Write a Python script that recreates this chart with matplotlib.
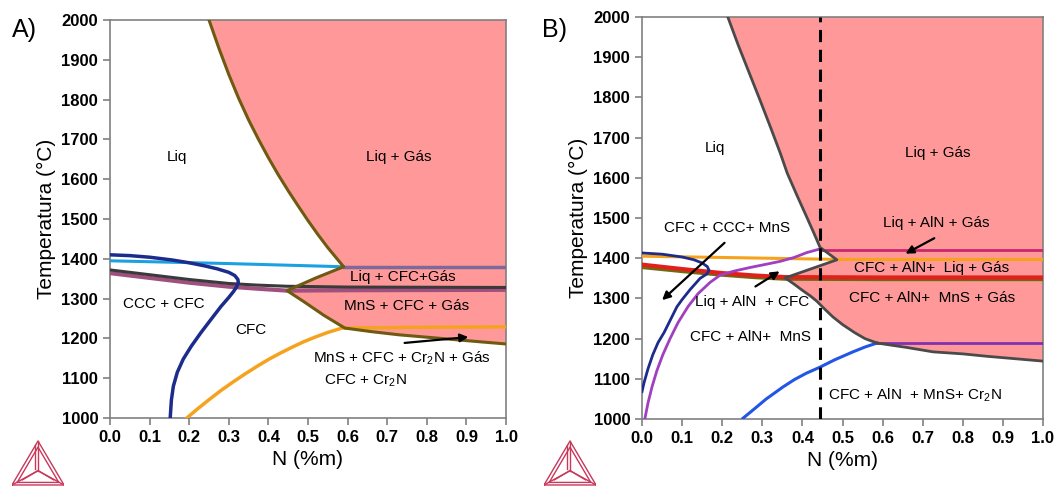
import numpy as np
import matplotlib
matplotlib.use("Agg")
import matplotlib.pyplot as plt

plt.rcParams['font.family'] = ['Liberation Sans', 'DejaVu Sans']
plt.rcParams['mathtext.fontset'] = 'custom'
plt.rcParams['mathtext.rm'] = 'Liberation Sans'

# ---------------- painel A ----------------
# fronteira Liq / Liq + Gás
a_liq_x = [0.25, 0.275, 0.30, 0.325, 0.35, 0.375, 0.40, 0.425, 0.45, 0.475, 0.50, 0.525, 0.55, 0.59]
a_liq_t = [2000, 1929, 1863, 1803, 1749, 1700, 1654, 1611, 1571, 1533, 1496, 1461, 1428, 1380]
# contorno inferior da região gasosa
a_gas_x = [0.59, 0.52, 0.447, 0.49, 0.54, 0.593, 0.66, 0.73, 0.80, 0.87, 0.94, 1.0]
a_gas_t = [1380, 1352, 1320, 1292, 1258, 1226, 1217, 1209, 1203, 1197, 1191, 1186]

a_navy_x = [0.0, 0.05, 0.10, 0.157, 0.20, 0.24, 0.27, 0.30, 0.315, 0.323, 0.324, 0.32, 0.312,
            0.30, 0.28, 0.253, 0.23, 0.205, 0.185, 0.17, 0.16, 0.155, 0.152]
a_navy_t = [1410, 1408, 1404, 1397, 1390, 1382, 1375, 1366, 1358, 1348, 1340, 1330, 1318,
            1303, 1280, 1245, 1215, 1180, 1148, 1115, 1080, 1045, 1000]
a_cyan_x = [0.0, 0.3, 0.59]
a_cyan_t = [1395, 1388, 1380]
a_top_x = [0.59, 1.0]
a_top_t = [1380, 1380]
a_mauve_x = [0.0, 0.05, 0.1, 0.15, 0.2, 0.25, 0.3, 0.37, 0.447, 0.6, 1.0]
a_mauve_t = [1364, 1358, 1352, 1346, 1340, 1335, 1330, 1325, 1320, 1321, 1322]
a_black_x = [0.0, 0.05, 0.1, 0.15, 0.2, 0.25, 0.3, 0.37, 0.447, 0.6, 1.0]
a_black_t = [1372, 1366, 1360, 1354, 1348, 1343, 1338, 1334, 1331, 1329, 1328]
a_orange_x = [0.194, 0.22, 0.25, 0.28, 0.31, 0.34, 0.37, 0.40, 0.43, 0.46, 0.49, 0.52, 0.55,
              0.586, 0.8, 1.0]
a_orange_t = [1000, 1022, 1046, 1069, 1090, 1110, 1129, 1147, 1163, 1178, 1192, 1204, 1215,
              1226, 1228, 1229]

a_labels = ["Liq", "Liq + Gás", "Liq + CFC+Gás", "MnS + CFC + Gás", "CCC + CFC", "CFC",
            r"MnS + CFC + Cr$_2$N + Gás", r"CFC + Cr$_2$N"]
a_label_x = [0.17, 0.73, 0.74, 0.75, 0.135, 0.355, 0.737, 0.645]
a_label_t = [1656, 1656, 1355, 1281, 1286, 1221, 1150, 1093]
a_arrows = [((0.737, 1188), (0.912, 1204))]

# ---------------- painel B ----------------
b_liq_x = [0.214, 0.24, 0.267, 0.294, 0.32, 0.345, 0.362, 0.387, 0.411, 0.428, 0.444]
b_liq_t = [2000, 1930, 1862, 1794, 1727, 1661, 1612, 1555, 1502, 1464, 1427]
b_gas_x = [0.444, 0.486, 0.357, 0.38, 0.40, 0.42, 0.436, 0.456, 0.476, 0.50, 0.53, 0.556,
           0.586, 0.66, 0.726, 0.80, 0.86, 0.93, 1.0]
b_gas_t = [1427, 1396, 1351, 1335, 1320, 1306, 1293, 1273, 1254, 1235, 1215, 1200,
           1189, 1178, 1167, 1162, 1156, 1150, 1144]

b_magenta_x = [0.444, 1.0]
b_magenta_t = [1421, 1421]
b_orange_x = [0.0, 0.25, 0.486, 0.75, 1.0]
b_orange_t = [1405, 1401, 1397, 1397, 1397]
b_purple_x = [0.007, 0.015, 0.025, 0.037, 0.052, 0.07, 0.09, 0.115, 0.14, 0.17, 0.195, 0.23,
              0.27, 0.31, 0.344, 0.38, 0.411, 0.444]
b_purple_t = [1000, 1040, 1080, 1120, 1160, 1200, 1240, 1280, 1312, 1340, 1358, 1368,
              1377, 1385, 1392, 1402, 1414, 1423]
b_navy_x = [0.0, 0.05, 0.10, 0.13, 0.15, 0.163, 0.167, 0.162, 0.145, 0.12, 0.10, 0.087, 0.07,
            0.055, 0.04, 0.027, 0.015, 0.005, 0.0]
b_navy_t = [1413, 1410, 1403, 1396, 1388, 1379, 1370, 1361, 1350, 1322, 1297, 1279, 1245,
            1215, 1190, 1160, 1125, 1090, 1068]
b_olive_x = [0.0, 0.1, 0.2, 0.28, 0.357, 0.6, 1.0]
b_olive_t = [1378, 1368, 1359, 1353, 1349, 1348, 1348]
b_red_x = [0.0, 0.1, 0.2, 0.28, 0.357, 0.6, 1.0]
b_red_t = [1384, 1373, 1363, 1357, 1353, 1352, 1352]
b_blue_x = [0.252, 0.28, 0.31, 0.352, 0.38, 0.41, 0.444, 0.48, 0.526, 0.556, 0.586]
b_blue_t = [1002, 1025, 1050, 1080, 1098, 1114, 1129, 1147, 1167, 1179, 1189]
b_violet_x = [0.586, 1.0]
b_violet_t = [1189, 1189]
b_cut = 0.445

b_labels = ["Liq", "Liq + Gás", "CFC + CCC+ MnS", "Liq + AlN + Gás", "CFC + AlN+  Liq + Gás",
            "CFC + AlN+  MnS + Gás", "Liq + AlN  + CFC", "CFC + AlN+  MnS",
            r"CFC + AlN  + MnS+ Cr$_2$N"]
b_label_x = [0.182, 0.738, 0.211, 0.735, 0.723, 0.723, 0.274, 0.27, 0.68]
b_label_t = [1674, 1662, 1475, 1488, 1376, 1301, 1291, 1204, 1060]
b_arrows = [((0.211, 1443), (0.045, 1291)), ((0.277, 1326), (0.349, 1371)),
            ((0.735, 1453), (0.651, 1408))]

FILL = '#FF9999'


def style_axes(ax):
    ax.set_xlim(0, 1)
    ax.set_ylim(1000, 2000)
    ax.set_xticks(np.arange(0, 1.01, 0.1))
    ax.set_xticklabels([f"{v:.1f}" for v in np.arange(0, 1.01, 0.1)])
    ax.set_yticks(np.arange(1000, 2001, 100))
    for s in ax.spines.values():
        s.set_color('#808080')
        s.set_linewidth(1.2)
    ax.tick_params(direction='out', length=5, color='#808080', width=1.2,
                   labelsize=12)
    for lab in ax.get_xticklabels() + ax.get_yticklabels():
        lab.set_fontweight('bold')
    ax.set_xlabel("N (%m)", fontsize=15)
    ax.set_ylabel("Temperatura (°C)", fontsize=15)


def draw_logo(fig, rect):
    # logotipo triangular no canto
    lax = fig.add_axes(rect)
    lax.set_xlim(0, 1)
    lax.set_ylim(0, 0.9)
    lax.axis('off')
    kw = dict(color='#C8385A', lw=1.0)
    lax.plot([0, 1, 0.5, 0], [0.02, 0.02, 0.88, 0.02], **kw)
    lax.plot([0.1, 0.9, 0.5, 0.1], [0.07, 0.07, 0.76, 0.07], **kw)
    for vx, vy in [(0, 0.02), (1, 0.02), (0.5, 0.88)]:
        lax.plot([vx, 0.5], [vy, 0.3], **kw)
    lax.plot([0.45, 0.45], [0.33, 0.8], **kw)
    lax.plot([0.2, 0.5, 0.8], [0.12, 0.3, 0.12], **kw)


fig = plt.figure(figsize=(10.58, 4.86), dpi=100)

# ---- A ----
axA = fig.add_axes([110 / 1058, 1 - 418 / 486, 396 / 1058, 398 / 486])
polyA_x = a_liq_x + a_gas_x[1:] + [1.0]
polyA_t = a_liq_t + a_gas_t[1:] + [2000]
axA.fill(polyA_x, polyA_t, color=FILL, zorder=1, lw=0)
axA.plot(a_liq_x + a_gas_x[1:], a_liq_t + a_gas_t[1:], color='#6E5A10', lw=2.2, zorder=4,
         solid_joinstyle='round')
axA.plot(a_cyan_x, a_cyan_t, color='#1BA1E2', lw=2.2, zorder=3)
axA.plot(a_top_x, a_top_t, color='#7E6A9A', lw=2.5, zorder=3)
axA.plot(a_mauve_x, a_mauve_t, color='#A0507F', lw=3.0, zorder=3)
axA.plot(a_black_x, a_black_t, color='#3A3A3A', lw=2.2, zorder=3)
axA.plot(a_orange_x, a_orange_t, color='#F5A31E', lw=2.5, zorder=3)
axA.plot(a_navy_x, a_navy_t, color='#1C2B8C', lw=2.5, zorder=5, solid_joinstyle='round')
for txt, x, t in zip(a_labels, a_label_x, a_label_t):
    axA.text(x, t, txt, ha='center', va='center', fontsize=11, zorder=6)
for tail, head in a_arrows:
    axA.annotate('', xy=head, xytext=tail, zorder=6,
                 arrowprops=dict(arrowstyle='-|>', color='black', lw=1.6, mutation_scale=12))
style_axes(axA)
fig.text(12 / 1058, 1 - 30 / 486, "A)", fontsize=18, va='center', ha='left')

# ---- B ----
axB = fig.add_axes([642 / 1058, 1 - 419 / 486, 401 / 1058, 402 / 486])
polyB_x = b_liq_x + b_gas_x[1:] + [1.0]
polyB_t = b_liq_t + b_gas_t[1:] + [2000]
axB.fill(polyB_x, polyB_t, color=FILL, zorder=1, lw=0)
axB.plot(b_liq_x + b_gas_x[1:], b_liq_t + b_gas_t[1:], color='#4A4A4A', lw=2.0, zorder=4,
         solid_joinstyle='round')
axB.plot(b_magenta_x, b_magenta_t, color='#C8286E', lw=2.0, zorder=3)
axB.plot(b_orange_x, b_orange_t, color='#F7A21B', lw=2.2, zorder=3)
axB.plot(b_olive_x, b_olive_t, color='#6F6A10', lw=3.0, zorder=3)
axB.plot(b_red_x, b_red_t, color='#E0201B', lw=3.0, zorder=3)
axB.plot(b_purple_x, b_purple_t, color='#A040C0', lw=2.0, zorder=3, solid_joinstyle='round')
axB.plot(b_navy_x, b_navy_t, color='#1C2B8C', lw=2.0, zorder=3, solid_joinstyle='round')
axB.plot(b_blue_x, b_blue_t, color='#2255E8', lw=2.2, zorder=3)
axB.plot(b_violet_x, b_violet_t, color='#8030B0', lw=2.0, zorder=3)
axB.axvline(b_cut, color='black', lw=2.2, ls=(0, (4, 2.5)), zorder=5)
for txt, x, t in zip(b_labels, b_label_x, b_label_t):
    axB.text(x, t, txt, ha='center', va='center', fontsize=11, zorder=6)
for tail, head in b_arrows:
    axB.annotate('', xy=head, xytext=tail, zorder=6,
                 arrowprops=dict(arrowstyle='-|>', color='black', lw=1.6, mutation_scale=12))
style_axes(axB)
fig.text(542 / 1058, 1 - 30 / 486, "B)", fontsize=18, va='center', ha='left')

draw_logo(fig, [12 / 1058, 0.0, 52 / 1058, 46 / 486])
draw_logo(fig, [544 / 1058, 0.0, 52 / 1058, 46 / 486])

fig.savefig("out.png", dpi=100)
